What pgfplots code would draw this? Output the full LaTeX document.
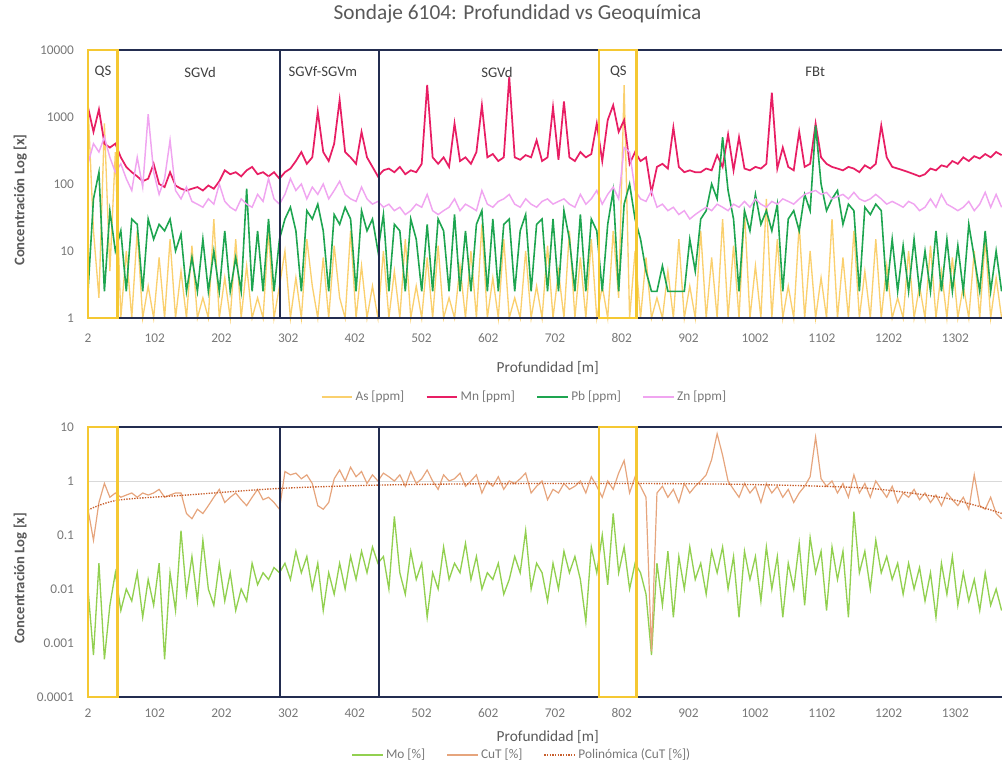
\documentclass[border=0pt]{standalone}
\usepackage{fontspec}
\setmainfont{Carlito}
\usepackage{pgfplots}
\pgfplotsset{compat=1.18}
\usepackage{pgfplotstable}

\definecolor{ascol}{RGB}{250,208,110}
\definecolor{mncol}{RGB}{232,30,100}
\definecolor{pbcol}{RGB}{30,165,80}
\definecolor{zncol}{RGB}{240,165,240}
\definecolor{mocol}{RGB}{146,208,80}
\definecolor{cutcol}{RGB}{230,165,125}
\definecolor{polycol}{RGB}{200,95,45}
\definecolor{qscol}{RGB}{245,200,50}
\definecolor{navycol}{RGB}{35,45,80}
\definecolor{txtgray}{RGB}{89,89,89}
\definecolor{tickgray}{RGB}{120,120,120}

% profundidad [m], As, Mn, Pb, Zn [ppm]
\pgfplotstableread{
x As Mn Pb Zn
2 1500 1400 2.5 200
10.2 20 600 60 400
18.4 2 1300 150 300
26.6 800 400 2.5 500
34.8 5 350 40 250
43 300 400 10 150
51.2 1 250 20 200
59.4 10 180 2.5 120
67.6 1 150 30 80
75.8 20 130 25 250
84 1 110 2.5 90
92.2 3 120 30 1100
100.4 1 200 15 150
108.6 8 100 25 70
116.8 1 90 20 120
125 15 150 30 450
133.2 1 95 10 80
141.4 5 85 18 60
149.6 1 80 2.5 90
157.8 12 85 8 55
166 1 90 2.5 50
174.2 2 80 15 45
182.4 1 95 2.5 60
190.6 30 85 10 50
198.8 1 110 2.5 100
207 4 160 20 55
215.2 1 140 2.5 45
223.4 15 150 8 40
231.6 1 130 2.5 60
239.8 6 160 85 50
248 1 180 2.5 45
256.2 2 140 20 70
264.4 1 150 2.5 55
272.6 20 130 30 120
280.8 1 150 2.5 60
289 3 120 15 50
297.2 10 150 30 70
305.4 1 170 45 120
313.6 4 220 20 80
321.8 1 300 2.5 100
330 15 200 40 60
338.2 3 250 30 90
346.4 1 1200 50 70
354.6 8 300 20 100
362.8 1 220 2.5 60
371 12 400 35 80
379.2 2 1800 25 110
387.4 1 300 45 70
395.6 20 250 30 60
403.8 1 200 2.5 55
412 6 600 40 90
420.2 1 250 20 60
428.4 3 180 30 50
436.6 1 130 10 55
444.8 10 160 35 45
453 1 170 2.5 50
461.2 5 150 25 40
469.4 1 180 20 45
477.6 15 140 2.5 35
485.8 1 160 30 40
494 3 150 15 50
502.2 1 200 2.5 45
510.4 8 3000 25 70
518.6 1 250 2.5 40
526.8 12 200 30 35
535 1 250 20 40
543.2 2 180 2.5 45
551.4 1 800 35 60
559.6 6 220 2.5 40
567.8 1 250 20 50
576 10 200 2.5 45
584.2 1 300 25 40
592.4 25 1500 40 80
600.6 1 250 2.5 50
608.8 4 280 30 45
617 1 220 2.5 55
625.2 15 250 25 60
633.4 1 4000 30 70
641.6 2 250 2.5 50
649.8 1 230 20 45
658 10 270 35 60
666.2 1 250 2.5 50
674.4 3 450 25 45
682.6 1 220 30 55
690.8 12 250 2.5 60
699 1 1400 30 50
707.2 5 230 2.5 55
715.4 1 1700 40 60
723.6 20 250 15 50
731.8 1 220 2.5 45
740 8 300 35 70
748.2 1 250 2.5 50
756.4 15 280 30 60
764.6 1 800 20 80
772.8 3 220 2.5 50
781 1 900 25 70
789.2 20 1500 80 90
797.4 2 600 2.5 60
805.6 3000 900 50 350
813.8 1 200 100 300
822 10 300 30 80
830.2 1 220 15 60
838.4 8 250 5 55
846.6 1 75 2.5 80
854.8 2 180 2.5 45
863 1 200 6 50
871.2 5 170 2.5 40
879.4 1 700 2.5 45
887.6 15 180 2.5 35
895.8 1 150 2.5 40
904 3 160 15 30
912.2 1 150 5 35
920.4 20 150 30 40
928.6 1 170 40 45
936.8 8 160 100 40
945 1 270 60 50
953.2 30 180 500 45
961.4 1 550 80 40
969.6 12 160 30 50
977.8 1 500 2.5 45
986 40 170 40 55
994.2 1 160 20 45
1002.4 6 180 70 60
1010.6 1 170 25 50
1018.8 60 200 40 45
1027 1 2300 20 55
1035.2 15 170 50 50
1043.4 1 350 2.5 60
1051.6 3 180 30 55
1059.8 1 160 40 50
1068 25 600 20 60
1076.2 1 180 70 70
1084.4 10 200 40 75
1092.6 1 800 750 80
1100.8 4 250 100 70
1109 1 200 40 75
1117.2 30 180 60 60
1125.4 1 170 80 65
1133.6 8 160 25 70
1141.8 1 180 50 60
1150 20 170 40 75
1158.2 1 150 2.5 60
1166.4 5 190 45 55
1174.6 1 170 35 60
1182.8 15 200 50 70
1191 1 750 40 60
1199.2 6 250 2.5 50
1207.4 1 180 15 55
1215.6 2 170 2.5 50
1223.8 1 160 12 45
1232 10 150 2.5 55
1240.2 1 140 15 50
1248.4 3 130 2.5 40
1256.6 1 140 10 45
1264.8 12 170 2.5 60
1273 1 160 20 45
1281.2 5 190 2.5 70
1289.4 1 180 15 50
1297.6 8 220 2.5 45
1305.8 1 200 12 40
1314 3 250 2.5 45
1322.2 1 220 25 55
1330.4 10 260 8 40
1338.6 1 240 2.5 50
1346.8 15 280 20 75
1355 1 250 2.5 45
1363.2 4 300 10 70
1371.4 1 270 2.5 45
}\geoquim

% profundidad [m], Mo [%], CuT [%]
\pgfplotstableread{
x Mo CuT
2 0.01 0.3
10.2 0.0006 0.08
18.4 0.03 0.4
26.6 0.0005 0.9
34.8 0.005 0.5
43 0.02 0.6
51.2 0.004 0.5
59.4 0.01 0.55
67.6 0.006 0.6
75.8 0.02 0.5
84 0.003 0.6
92.2 0.015 0.55
100.4 0.005 0.6
108.6 0.03 0.7
116.8 0.0005 0.5
125 0.02 0.55
133.2 0.004 0.6
141.4 0.12 0.6
149.6 0.008 0.25
157.8 0.04 0.2
166 0.006 0.3
174.2 0.08 0.25
182.4 0.01 0.35
190.6 0.005 0.5
198.8 0.03 0.7
207 0.006 0.4
215.2 0.02 0.5
223.4 0.004 0.6
231.6 0.01 0.45
239.8 0.006 0.35
248 0.03 0.5
256.2 0.012 0.7
264.4 0.02 0.45
272.6 0.015 0.5
280.8 0.025 0.4
289 0.02 0.3
297.2 0.03 1.5
305.4 0.015 1.3
313.6 0.05 1.4
321.8 0.02 1.1
330 0.04 1.3
338.2 0.01 0.9
346.4 0.03 0.35
354.6 0.004 0.3
362.8 0.02 0.4
371 0.008 1.1
379.2 0.03 1.6
387.4 0.01 1.0
395.6 0.04 1.8
403.8 0.015 1.2
412 0.05 1.5
420.2 0.02 0.9
428.4 0.06 1.3
436.6 0.03 1.0
444.8 0.04 1.4
453 0.01 1.2
461.2 0.22 1.0
469.4 0.02 1.3
477.6 0.008 0.8
485.8 0.05 1.5
494 0.015 0.9
502.2 0.03 1.1
510.4 0.003 1.6
518.6 0.02 1.0
526.8 0.01 0.7
535 0.06 1.3
543.2 0.015 1.0
551.4 0.03 1.1
559.6 0.02 1.4
567.8 0.07 0.8
576 0.015 1.0
584.2 0.04 1.3
592.4 0.01 0.6
600.6 0.02 1.0
608.8 0.015 0.8
617 0.03 1.2
625.2 0.008 0.7
633.4 0.015 1.0
641.6 0.04 0.9
649.8 0.02 1.1
658 0.12 1.4
666.2 0.01 0.6
674.4 0.03 0.8
682.6 0.02 1.0
690.8 0.006 0.45
699 0.03 0.7
707.2 0.01 0.6
715.4 0.05 0.9
723.6 0.02 0.7
731.8 0.04 0.8
740 0.015 1.0
748.2 0.0025 0.6
756.4 0.06 1.2
764.6 0.02 0.8
772.8 0.1 0.5
781 0.012 1.0
789.2 0.25 0.7
797.4 0.02 1.4
805.6 0.06 2.4
813.8 0.01 0.6
822 0.03 1.2
830.2 0.02 0.8
838.4 0.008 0.5
846.6 0.0006 0.0007
854.8 0.03 0.6
863 0.005 0.8
871.2 0.05 0.5
879.4 0.003 0.7
887.6 0.04 0.4
895.8 0.01 0.9
904 0.06 0.6
912.2 0.015 0.8
920.4 0.03 1.0
928.6 0.008 1.3
936.8 0.05 2.5
945 0.02 7.5
953.2 0.06 3.0
961.4 0.01 1.0
969.6 0.04 0.7
977.8 0.003 0.5
986 0.05 0.9
994.2 0.015 0.6
1002.4 0.04 0.8
1010.6 0.006 0.4
1018.8 0.06 0.9
1027 0.01 0.6
1035.2 0.04 0.8
1043.4 0.003 0.5
1051.6 0.03 0.7
1059.8 0.01 0.4
1068 0.07 0.6
1076.2 0.005 0.8
1084.4 0.09 1.2
1092.6 0.02 6.5
1100.8 0.05 1.1
1109 0.004 0.8
1117.2 0.06 1.0
1125.4 0.015 0.6
1133.6 0.05 0.9
1141.8 0.003 0.5
1150 0.27 1.3
1158.2 0.02 0.6
1166.4 0.05 0.9
1174.6 0.01 0.5
1182.8 0.08 1.0
1191 0.02 0.7
1199.2 0.04 0.5
1207.4 0.015 0.8
1215.6 0.03 0.4
1223.8 0.008 0.6
1232 0.03 0.5
1240.2 0.01 0.7
1248.4 0.025 0.45
1256.6 0.006 0.6
1264.8 0.02 0.4
1273 0.003 0.55
1281.2 0.03 0.35
1289.4 0.008 0.6
1297.6 0.04 0.45
1305.8 0.005 0.35
1314 0.02 0.5
1322.2 0.006 0.3
1330.4 0.015 1.3
1338.6 0.004 0.35
1346.8 0.02 0.3
1355 0.005 0.5
1363.2 0.01 0.25
1371.4 0.004 0.2
}\cobremo

\pgfplotsset{
  panel/.style={
    scale only axis,
    width=685.5pt,
    xmin=2, xmax=1372,
    clip=false,
    axis line style={draw=none},
    major tick length=0pt,
    minor tick length=0pt,
    xtick={2,102,...,1302},
    xticklabels={2,102,202,302,402,502,602,702,802,902,1002,1102,1202,1302},
    ticklabel style={font=\fontsize{10}{12}\selectfont, text=tickgray},
    yticklabel style={xshift=-7pt},
    xlabel={Profundidad [m]},
    ylabel={Concentración Log [x]},
    every axis y label/.style={at={(axis description cs:-0.074,0.44)}, rotate=90,
      anchor=center, font=\fontsize{11}{13}\selectfont\bfseries, text=txtgray},
    legend style={draw=none, fill=none, legend columns=-1, anchor=center,
      font=\fontsize{10}{12}\selectfont, text=tickgray,
      /tikz/every even column/.append style={column sep=14pt}},
    legend image code/.code={\draw[#1] (0pt,0pt) -- (23pt,0pt);},
  },
}
\tikzset{
  navybox/.style={draw=navycol, line width=2pt},
  qsbox/.style={draw=qscol, line width=2pt},
  unit/.style={font=\fontsize{11}{13}\selectfont, text=black!75},
}

\begin{document}
\begin{tikzpicture}
\path[use as bounding box] (0pt,0pt) rectangle (751.5pt,-572.25pt);

% ---- panel superior: As, Mn, Pb, Zn ----
\begin{semilogyaxis}[
  panel,
  at={(66pt,-238.5pt)}, anchor=south west,
  height=201pt,
  ymin=1, ymax=10000,
  ytick={1,10,100,1000,10000},
  yticklabels={1,10,100,1000,10000},
  xticklabel style={yshift=-8pt},
  title={Sondaje 6104: Profundidad vs Geoquímica},
  title style={at={(axis description cs:0.47,1.104)}, anchor=center,
    font=\fontsize{16}{18}\selectfont, text=txtgray},
  every axis x label/.style={at={(axis description cs:0.503,-0.187)}, anchor=center,
    font=\fontsize{11.5}{13}\selectfont, text=txtgray},
  legend style={at={(axis description cs:0.478,-0.295)}},
]
\addplot[ascol, line width=1pt] table[x=x, y=As]{\geoquim};
\addlegendentry{As [ppm]}
\addplot[mncol, line width=1.3pt] table[x=x, y=Mn]{\geoquim};
\addlegendentry{Mn [ppm]}
\addplot[pbcol, line width=1.2pt] table[x=x, y=Pb]{\geoquim};
\addlegendentry{Pb [ppm]}
\addplot[zncol, line width=1.1pt] table[x=x, y=Zn]{\geoquim};
\addlegendentry{Zn [ppm]}

\draw[navybox] (axis cs:46,1) rectangle (axis cs:290,10000);
\draw[navybox] (axis cs:290,1) rectangle (axis cs:438,10000);
\draw[navybox] (axis cs:438,1) rectangle (axis cs:768,10000);
\draw[navybox] (axis cs:1372,1) -- (axis cs:824,1) -- (axis cs:824,10000) -- (axis cs:1372,10000);
\draw[qsbox] (axis cs:2,1) rectangle (axis cs:46,10000);
\draw[qsbox] (axis cs:768,1) rectangle (axis cs:824,10000);

\node[unit] at (axis cs:24.5,4700) {QS};
\node[unit] at (axis cs:170,4700) {SGVd};
\node[unit] at (axis cs:354,4700) {SGVf-SGVm};
\node[unit] at (axis cs:615,4700) {SGVd};
\node[unit] at (axis cs:797,4700) {QS};
\node[unit] at (axis cs:1092,4700) {FBt};
\end{semilogyaxis}

% ---- panel inferior: Mo, CuT ----
\begin{semilogyaxis}[
  panel,
  at={(66pt,-522.75pt)}, anchor=south west,
  height=202.5pt,
  ymin=0.0001, ymax=10,
  ytick={0.0001,0.001,0.01,0.1,1,10},
  yticklabels={0.0001,0.001,0.01,0.1,1,10},
  xticklabel style={yshift=-5pt},
  every axis x label/.style={at={(axis description cs:0.503,-0.148)}, anchor=center,
    font=\fontsize{11.5}{13}\selectfont, text=txtgray},
  legend style={at={(axis description cs:0.475,-0.215)}},
]
\draw[black!15, line width=0.6pt] (axis cs:2,1) -- (axis cs:1372,1);
\addplot[mocol, line width=1pt] table[x=x, y=Mo]{\cobremo};
\addlegendentry{Mo [\%]}
\addplot[cutcol, line width=0.9pt] table[x=x, y=CuT]{\cobremo};
\addlegendentry{CuT [\%]}
\addplot[polycol, line width=1pt, densely dotted, smooth] coordinates {
  (2,0.29) (46,0.44) (150,0.55) (290,0.73) (438,0.84) (600,0.89) (768,0.9)
  (900,0.89) (1000,0.86) (1100,0.8) (1180,0.72) (1280,0.5) (1330,0.36) (1372,0.25)
};
\addlegendentry{Polinómica (CuT [\%])}

\draw[navybox] (axis cs:46,0.0001) rectangle (axis cs:290,10);
\draw[navybox] (axis cs:290,0.0001) rectangle (axis cs:438,10);
\draw[navybox] (axis cs:438,0.0001) rectangle (axis cs:768,10);
\draw[navybox] (axis cs:1372,0.0001) -- (axis cs:824,0.0001) -- (axis cs:824,10) -- (axis cs:1372,10);
\draw[qsbox] (axis cs:2,0.0001) rectangle (axis cs:46,10);
\draw[qsbox] (axis cs:768,0.0001) rectangle (axis cs:824,10);
\end{semilogyaxis}
\end{tikzpicture}
\end{document}
